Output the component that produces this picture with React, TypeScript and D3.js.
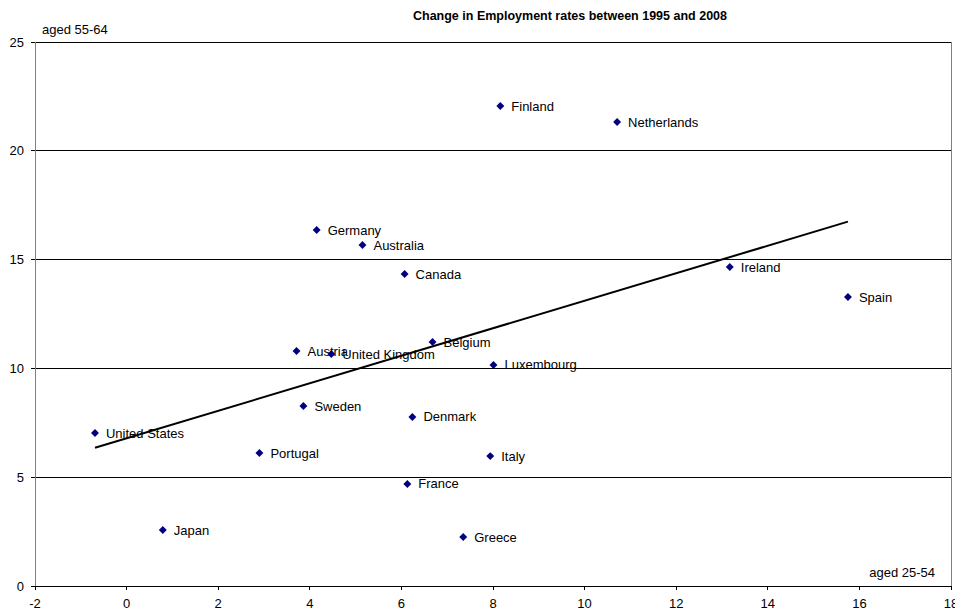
import * as d3 from 'd3';

const countries = [
  'Finland', 'Netherlands', 'Germany', 'Australia', 'Canada', 'Ireland', 'Spain',
  'Belgium', 'Austria', 'United Kingdom', 'Luxembourg', 'Sweden', 'Denmark',
  'United States', 'Portugal', 'Italy', 'France', 'Japan', 'Greece',
];
// change in employment rate, aged 25-54
const prime = [8.16, 10.71, 4.15, 5.15, 6.07, 13.17, 15.75, 6.68, 3.71, 4.47, 8.01, 3.86, 6.24, -0.69, 2.9, 7.94, 6.13, 0.79, 7.35];
// change in employment rate, aged 55-64
const older = [22.06, 21.32, 16.36, 15.67, 14.34, 14.66, 13.28, 11.21, 10.8, 10.66, 10.16, 8.27, 7.77, 7.03, 6.11, 5.97, 4.69, 2.57, 2.25];

const xTicks = [-2, 0, 2, 4, 6, 8, 10, 12, 14, 16, 18];
const yTicks = [0, 5, 10, 15, 20, 25];

const W = 955;
const H = 613;
const font = "'Liberation Sans', Arial, sans-serif";

export default function App() {
  const x = d3.scaleLinear().domain([-2, 18]).range([35, 951]);
  const y = d3.scaleLinear().domain([0, 25]).range([586, 42]);

  // linear trendline (least squares)
  const mx = d3.mean(prime) as number;
  const my = d3.mean(older) as number;
  const slope = d3.sum(prime, (v, i) => (v - mx) * (older[i] - my)) / d3.sum(prime, (v) => (v - mx) ** 2);
  const icpt = my - slope * mx;
  const [x0, x1] = d3.extent(prime) as [number, number];

  const diamond = d3.symbol().type(d3.symbolDiamond2).size(40)();

  return (
    <svg width={W} height={H} style={{ position: 'absolute', left: 0, top: 0, background: '#fff' }} fontFamily={font}>
      {/* gridlines */}
      {yTicks.filter((t) => t > 0).map((t) => (
        <line key={t} x1={x(-2)} x2={x(18)} y1={y(t)} y2={y(t)} stroke="#000" strokeWidth={1} shapeRendering="crispEdges" />
      ))}
      <line x1={x(18)} x2={x(18)} y1={y(25)} y2={y(0)} stroke="#808080" shapeRendering="crispEdges" />
      {/* axes */}
      <line x1={x(-2)} x2={x(-2)} y1={y(25)} y2={y(0)} stroke="#808080" strokeWidth={1} shapeRendering="crispEdges" />
      <line x1={x(-2)} x2={x(18)} y1={y(0)} y2={y(0)} stroke="#000" strokeWidth={1} shapeRendering="crispEdges" />
      {yTicks.map((t) => (
        <g key={t}>
          <line x1={x(-2) - 4} x2={x(-2)} y1={y(t)} y2={y(t)} stroke="#000" shapeRendering="crispEdges" />
          <text x={x(-2) - 11} y={y(t)} dy="0.35em" textAnchor="end" fontSize={13}>{t}</text>
        </g>
      ))}
      {xTicks.map((t) => (
        <g key={t}>
          <line x1={x(t)} x2={x(t)} y1={y(0)} y2={y(0) + 4} stroke="#000" shapeRendering="crispEdges" />
          <text x={x(t)} y={y(0) + 22} textAnchor="middle" fontSize={13}>{t}</text>
        </g>
      ))}
      {/* trendline */}
      <line x1={x(x0)} x2={x(x1)} y1={y(icpt + slope * x0)} y2={y(icpt + slope * x1)} stroke="#000" strokeWidth={2} />
      {/* points */}
      {countries.map((c, i) => (
        <g key={c}>
          <path d={diamond as string} transform={`translate(${x(prime[i])},${y(older[i])})`} fill="#000080" />
          <text x={x(prime[i]) + 11} y={y(older[i])} dy="0.35em" fontSize={13} fill="#000">{c}</text>
        </g>
      ))}
      {/* titles */}
      <text x={570} y={20} textAnchor="middle" fontSize={12.5} fontWeight="bold">Change in Employment rates between 1995 and 2008</text>
      <text x={42} y={34} fontSize={13}>aged 55-64</text>
      <text x={935} y={577} textAnchor="end" fontSize={13}>aged 25-54</text>
    </svg>
  );
}
